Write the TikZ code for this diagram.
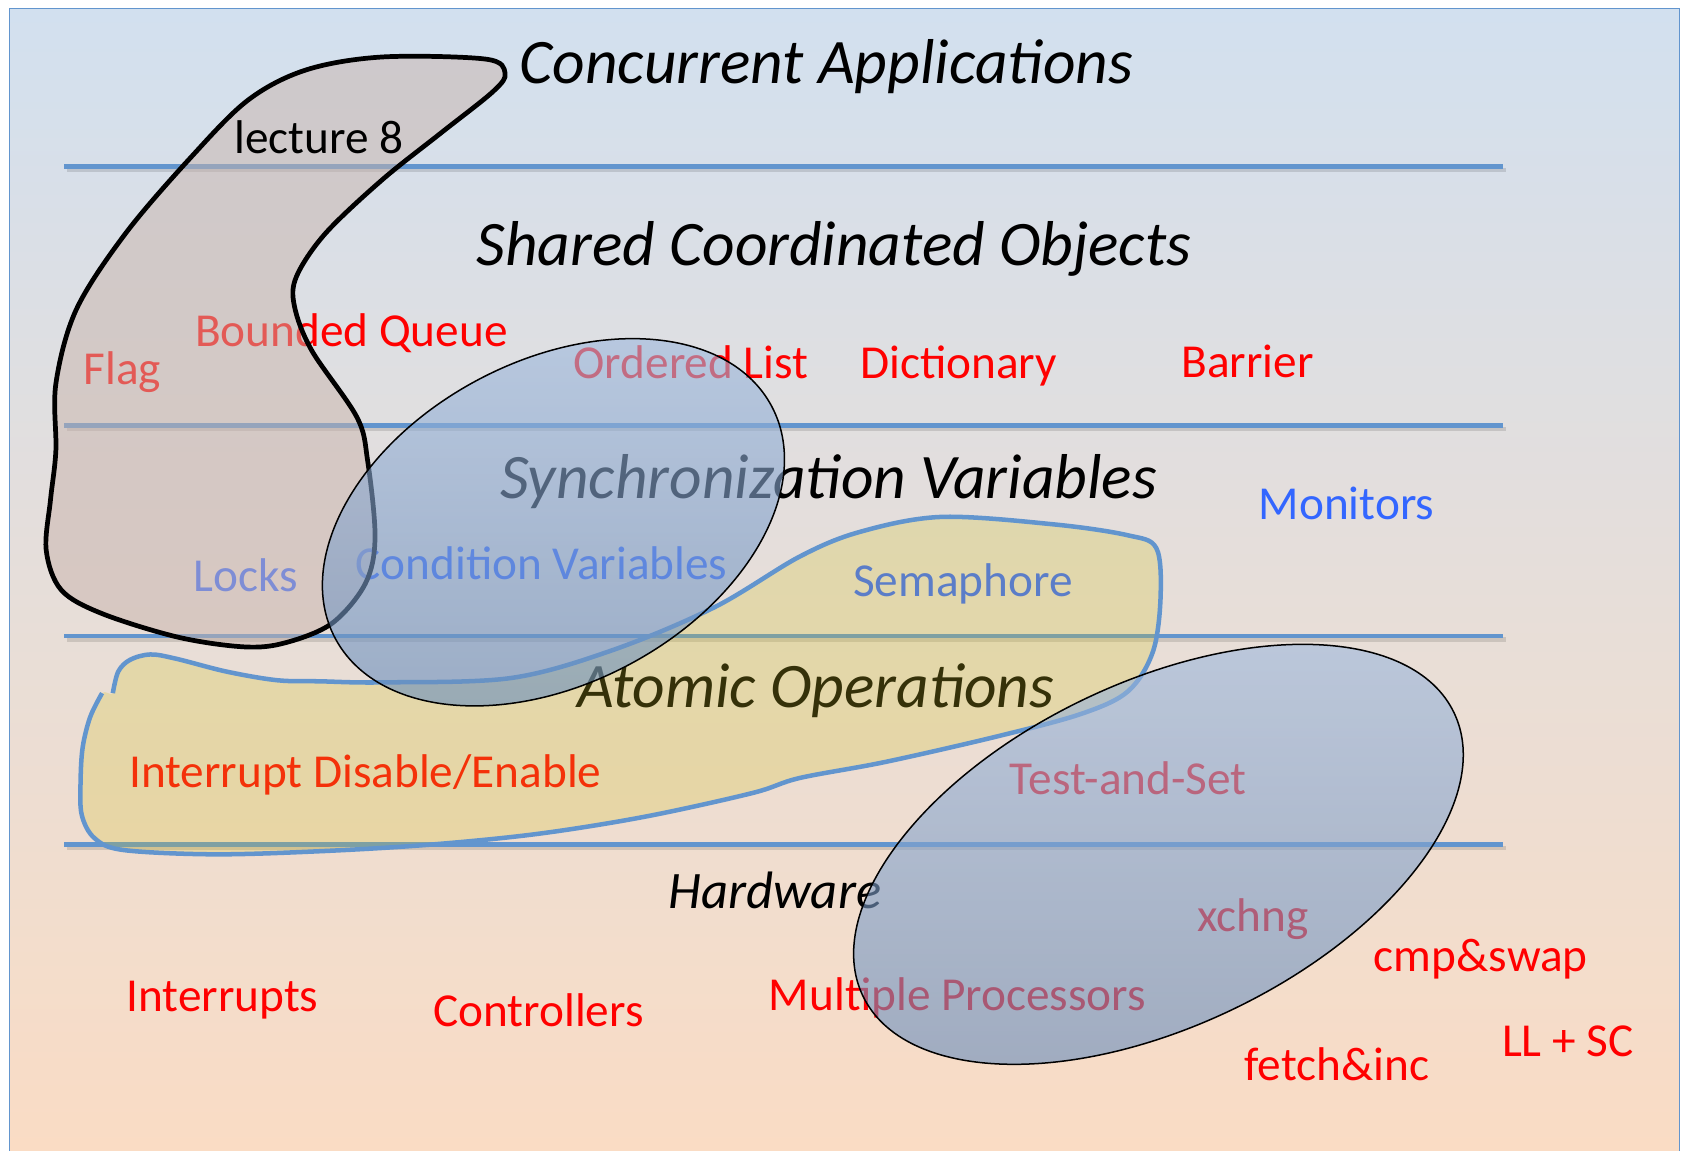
\documentclass[tikz,border=0pt]{standalone}
\usepackage{fontspec}
\setmainfont{Carlito}
\definecolor{layerblue}{RGB}{98,149,206}
\definecolor{txtred}{RGB}{255,0,0}
\definecolor{txtblue}{RGB}{51,102,255}
\definecolor{bgtop}{RGB}{210,224,239}
\definecolor{bgmid}{RGB}{226,226,231}
\definecolor{bgbot}{RGB}{250,220,196}
\definecolor{lecgray}{RGB}{201,180,172}
\definecolor{atomyellow}{RGB}{212,196,38}
\definecolor{ovaltop}{RGB}{160,186,222}
\definecolor{ovalbot}{RGB}{100,138,186}

\tikzset{every picture/.style={line width=0.75pt}}
\tikzset{
  layerline/.style={draw=layerblue, line width=2.1pt},
  layershadow/.style={draw=black, draw opacity=0.12, line width=2.1pt},
  layertitle/.style={anchor=base, inner sep=0.75pt, font=\fontsize{29.5}{34}\selectfont\itshape},
  redlbl/.style={anchor=base, inner sep=0.75pt, text=txtred, font=\fontsize{22}{26}\selectfont},
  bluelbl/.style={redlbl, text=txtblue},
  oval/.style={draw=black, line width=0.7pt, top color=ovaltop, bottom color=ovalbot, fill opacity=0.6, draw opacity=1},
}

\begin{document}
\begin{tikzpicture}[x=0.5pt,y=0.5pt,yscale=-1,xscale=1]
\useasboundingbox (0,0) rectangle (1568,1071);

%Shape: Rectangle [background]
\shade [top color=bgtop, middle color=bgmid, bottom color=bgbot] (9,8) rectangle (1563,1071);
\draw [layerblue, line width=0.7pt] (9,1071) -- (9,8) -- (1563,8) -- (1563,1071);

%Straight Lines [layers]
\foreach \ly in {155,396,592,786} {
  \draw [layershadow] (62,\ly+3) -- (1401,\ly+3);
  \draw [layerline] (60,\ly) -- (1399,\ly);
}

% layer titles
\node [layertitle] (concapp) at (769,78) {Concurrent Applications};
\node [layertitle] (sharedobj) at (776,247) {Shared Coordinated Objects};
\node [layertitle] (syncvar) at (771,464) {Synchronization Variables};
\node [layertitle] (atomicop) at (759,658) {Atomic Operations};
\node [layertitle, font=\fontsize{24.5}{28}\selectfont\itshape] (hardware) at (721,845) {Hardware};

% objects
\node [redlbl] (boundq) at (327,322) {Bounded Queue};
\node [redlbl] (flag) at (114,358) {Flag};
\node [redlbl] (ordlist) at (643,352) {Ordered List};
\node [redlbl] (dict) at (892,352) {Dictionary};
\node [redlbl] (barrier) at (1161,351) {Barrier};
% sync variables
\node [bluelbl] (monitors) at (1253,483) {Monitors};
\node [bluelbl] (locks) at (229,550) {Locks};
\node [bluelbl] (condvar) at (504,539) {Condition Variables};
\node [bluelbl] (sema) at (896,555) {Semaphore};
% atomic operations
\node [redlbl] (intdis) at (340,733) {Interrupt Disable/Enable};
\node [redlbl] (tas) at (1050,739) {Test-and-Set};
\node [redlbl] (xchng) at (1166,867) {xchng};
\node [redlbl] (cas) at (1378,904) {cmp\&swap};
\node [redlbl] (fai) at (1244,1005) {fetch\&inc};
\node [redlbl] (llsc) at (1459,983) {LL + SC};
% hardware
\node [redlbl] (interrupts) at (207,941) {Interrupts};
\node [redlbl] (ctrl) at (501,955) {Controllers};
\node [redlbl] (multiproc) at (891,940) {Multiple Processors};

%Shape: Free Drawing [lecture 8]
\draw [black, line width=2.2pt, fill=lecgray, fill opacity=0.5] plot [smooth cycle, tension=0.55] coordinates {(285,65) (356,53) (452,55) (470,68) (459,85) (410,124) (356,167) (303,217) (276,257) (274,285) (290,326) (332,388) (342,428) (349,500) (340,543) (309,580) (266,598) (228,602) (166,593) (95,571) (57,549) (43,512) (47,465) (52,419) (52,357) (71,288) (117,217) (178,146) (231,93)};
\node [redlbl, text=black] (lecture) at (297,143) {lecture 8};

%Shape: Free Drawing [atomic]
\fill [atomyellow, fill opacity=0.25] plot [smooth cycle, tension=0.55] coordinates {(105,645) (110,625) (121,614) (140,609) (164,613) (211,625) (258,633) (298,634) (356,635) (475,631) (570,605) (665,565) (744,518) (800,495) (876,481) (981,488) (1049,498) (1076,510) (1080,555) (1073,606) (1050,643) (1007,664) (929,685) (824,709) (744,724) (700,738) (600,760) (500,776) (400,786) (300,792) (200,795) (115,791) (88,780) (76,758) (75,726) (77,695) (84,667) (95,645)};
\draw [layerblue, line width=2.1pt] plot [smooth, tension=0.55] coordinates {(105,645) (110,625) (121,614) (140,609) (164,613) (211,625) (258,633) (298,634) (356,635) (475,631) (570,605) (665,565) (744,518) (800,495) (876,481) (981,488) (1049,498) (1076,510) (1080,555) (1073,606) (1050,643) (1007,664) (929,685) (824,709) (744,724) (700,738) (600,760) (500,776) (400,786) (300,792) (200,795) (115,791) (88,780) (76,758) (75,726) (77,695) (84,667) (95,645)};

%Shape: Ellipse [condition variables]
\begin{scope}[shift={(515,486)}, rotate=-28]
\draw [oval] (0,0) ellipse [x radius=230, y radius=150];
\end{scope}
%Shape: Ellipse [test-and-set]
\begin{scope}[shift={(1078,795)}, rotate=-25.6]
\draw [oval] (0,0) ellipse [x radius=305, y radius=160];
\end{scope}

\end{tikzpicture}
\end{document}
